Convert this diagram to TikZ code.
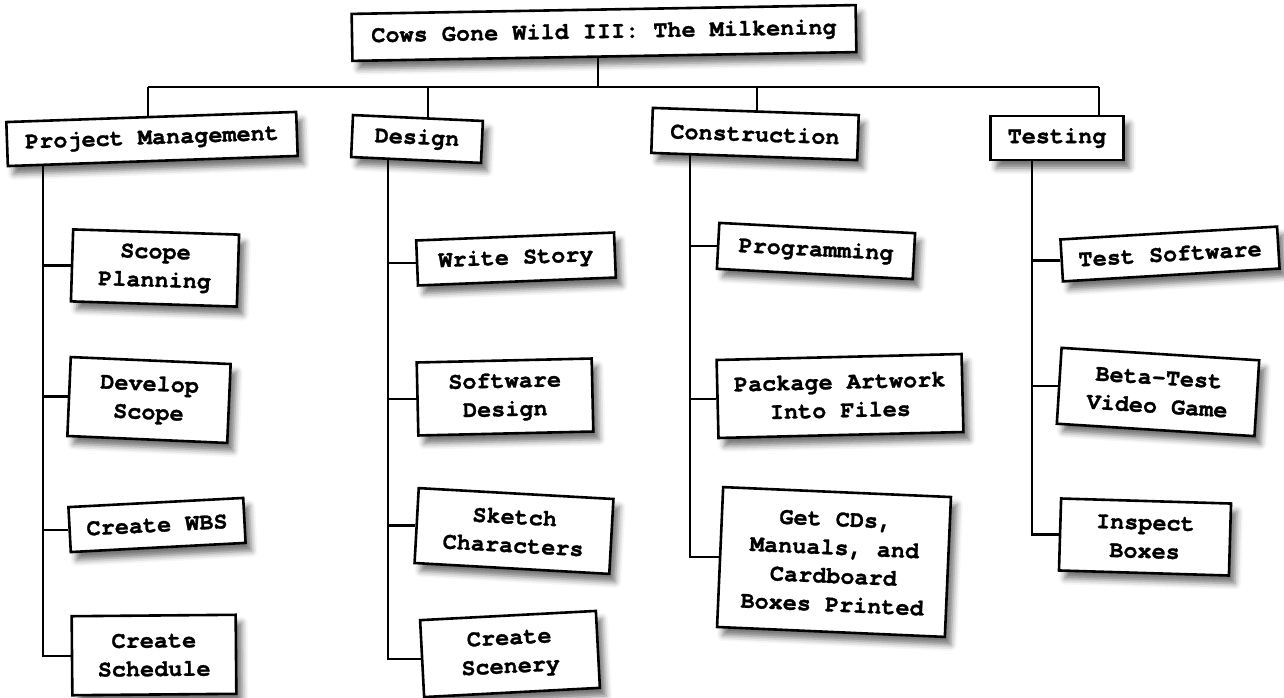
\documentclass[tikz,border=0pt]{standalone}
\usepackage{fontspec}
\newfontfamily\cour{TeX Gyre Cursor}[BoldFeatures={FakeBold=1.2}]
\usetikzlibrary{shadows,shadows.blur,calc,backgrounds}
\begin{document}
\begin{tikzpicture}[x=1pt,y=-1pt,
  box/.style={draw=black, line width=2.6pt, fill=white, inner sep=0pt, align=center,
    font=\cour\bfseries\fontsize{23.5}{28.5}\selectfont,
    blur shadow={shadow xshift=6pt, shadow yshift=-8pt, shadow blur radius=6pt, shadow opacity=55}},
  link/.style={line width=2.3pt, line cap=butt}]
\useasboundingbox (0,0) rectangle (1284,698);

% top
\node[box, minimum width=504pt, minimum height=47pt, rotate=1] (title) at (604,33) {Cows Gone Wild III: The Milkening};

% level 1
\node[box, minimum width=290pt, minimum height=44pt, rotate=2] (pm) at (152,139) {Project Management};
\node[box, minimum width=130pt, minimum height=42pt, rotate=-2.6] (des) at (417,139) {Design};
\node[box, minimum width=206pt, minimum height=45pt, rotate=-2] (con) at (755,134) {Construction};
\node[box, minimum width=133pt, minimum height=44pt] (tst) at (1057,138) {Testing};

% project management children
\node[box, minimum width=166pt, minimum height=72pt, rotate=-1.8] (sp) at (155,268) {Scope\\Planning};
\node[box, minimum width=160pt, minimum height=79pt, rotate=-2.5] (dsc) at (149,400) {Develop\\Scope};
\node[box, minimum width=175pt, minimum height=45pt, rotate=3] (wbs) at (157,525) {Create WBS};
\node[box, minimum width=164pt, minimum height=79pt, rotate=0.5] (csch) at (154,655) {Create\\Schedule};

% design children
\node[box, minimum width=198pt, minimum height=45pt, rotate=2.3] (ws) at (516,259) {Write Story};
\node[box, minimum width=175pt, minimum height=73pt, rotate=1.3] (swd) at (505,397) {Software\\Design};
\node[box, minimum width=195pt, minimum height=75pt, rotate=-3.2] (sk) at (514,531) {Sketch\\Characters};
\node[box, minimum width=176pt, minimum height=77pt, rotate=3] (scn) at (510,654) {Create\\Scenery};

% construction children
\node[box, minimum width=196pt, minimum height=46pt, rotate=-3] (prog) at (816,251) {Programming};
\node[box, minimum width=245pt, minimum height=78pt, rotate=1.4] (pkg) at (840,396) {Package Artwork\\Into Files};
\node[box, minimum width=228pt, minimum height=140pt, rotate=-2.5] (cds) at (834,562) {Get CDs,\\Manuals, and\\Cardboard\\Boxes Printed};

% testing children
\node[box, minimum width=217pt, minimum height=42pt, rotate=3.4] (tsw) at (1170,254) {Test Software};
\node[box, minimum width=198pt, minimum height=76pt, rotate=-3.6] (bt) at (1158,392) {Beta-Test\\Video Game};
\node[box, minimum width=170pt, minimum height=72pt, rotate=-1.7] (ib) at (1145,537) {Inspect\\Boxes};

\begin{scope}[on background layer]
  \coordinate (tv) at (598,87);
  \coordinate (busL) at (148,87);
  \coordinate (busD) at (428,87);
  \coordinate (busC) at (757,87);
  \coordinate (busR) at (1099,87);
  \draw[link] (tv |- title.center) -- (tv);
  \draw[link] (busL) -- (busR);
  \draw[link] (busL) -- (busL |- pm.center);
  \draw[link] (busD) -- (busD |- des.center);
  \draw[link] (busC) -- (busC |- con.center);
  \draw[link] (busR) -- (busR |- tst.center);

  \coordinate (pmb) at (43,139);
  \draw[link] (pmb) -- (pmb |- csch.west) -- (csch.west);
  \draw[link] (pmb |- sp.west) -- (sp.west);
  \draw[link] (pmb |- dsc.west) -- (dsc.west);
  \draw[link] (pmb |- wbs.west) -- (wbs.west);

  \coordinate (db) at (388,139);
  \draw[link] (db) -- (db |- scn.west) -- (scn.west);
  \draw[link] (db |- ws.west) -- (ws.west);
  \draw[link] (db |- swd.west) -- (swd.west);
  \draw[link] (db |- sk.west) -- (sk.west);

  \coordinate (cb) at (690,134);
  \draw[link] (cb) -- (cb |- cds.west) -- (cds.west);
  \draw[link] (cb |- prog.west) -- (prog.west);
  \draw[link] (cb |- pkg.west) -- (pkg.west);

  \coordinate (tb) at (1032,138);
  \draw[link] (tb) -- (tb |- ib.west) -- (ib.west);
  \draw[link] (tb |- tsw.west) -- (tsw.west);
  \draw[link] (tb |- bt.west) -- (bt.west);
\end{scope}
\end{tikzpicture}
\end{document}
